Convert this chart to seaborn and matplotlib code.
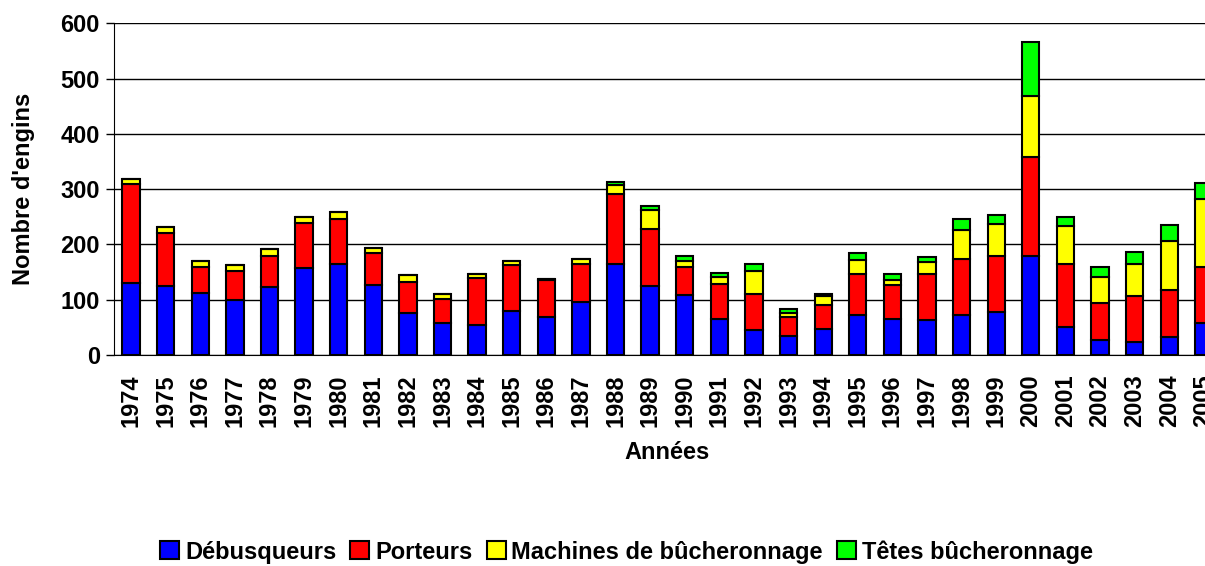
import numpy as np
import pandas as pd
import seaborn as sns
import matplotlib.pyplot as plt

## DATA ##
annees = [str(a) for a in range(1974, 2006)]
debusqueurs = [131, 125, 112, 100, 123, 158, 165, 126, 76, 58, 54, 80, 69, 96, 165, 124,
               108, 65, 45, 34, 47, 72, 66, 63, 72, 78, 179, 50, 28, 23, 33, 58]
porteurs = [178, 95, 48, 52, 57, 80, 81, 58, 56, 44, 85, 82, 67, 69, 127, 104,
            52, 63, 65, 34, 43, 74, 61, 84, 101, 101, 180, 114, 66, 83, 85, 101]
machines = [10, 11, 11, 11, 11, 11, 12, 10, 12, 8, 7, 8, 2, 9, 15, 34,
            11, 14, 42, 8, 16, 26, 8, 21, 53, 58, 109, 69, 47, 58, 88, 124]
tetes = [0, 0, 0, 0, 0, 0, 0, 0, 0, 0, 0, 0, 0, 0, 7, 7,
         9, 7, 12, 8, 4, 13, 12, 9, 20, 17, 99, 16, 18, 23, 29, 29]

series = ['Débusqueurs', 'Porteurs', 'Machines de bûcheronnage', 'Têtes bûcheronnage']
couleurs = ['#0000FF', '#FF0000', '#FFFF00', '#00FF00']

df = pd.DataFrame({'annee': annees,
                   series[0]: debusqueurs,
                   series[1]: porteurs,
                   series[2]: machines,
                   series[3]: tetes})

sns.set_style('white')
plt.rcParams['font.family'] = ['Liberation Sans', 'DejaVu Sans']
plt.rcParams['font.weight'] = 'bold'
plt.rcParams['text.color'] = 'black'
plt.rcParams['axes.labelcolor'] = 'black'
plt.rcParams['xtick.color'] = 'black'
plt.rcParams['ytick.color'] = 'black'

fig = plt.figure(figsize=(12.05, 5.66), dpi=100)
ax = fig.add_axes([0.0944, 0.3728, 0.919, 0.5857])

# stacked bars
bas = np.zeros(len(annees))
for nom, c in zip(series, couleurs):
    sns.barplot(data=df, x='annee', y=nom, bottom=bas, color=c, saturation=1,
                edgecolor='black', linewidth=1.5, width=0.5, errorbar=None,
                label=nom, ax=ax, zorder=3)
    bas = bas + df[nom].values

ax.set_xlim(-0.5, len(annees) - 0.5)
ax.set_ylim(0, 600)
ax.set_yticks(range(0, 601, 100))
ax.yaxis.grid(True, color='black', linewidth=1, zorder=0)
ax.set_axisbelow(True)
for s in ['top', 'right']:
    ax.spines[s].set_visible(False)
ax.spines['left'].set_color('black')
ax.spines['bottom'].set_color('black')

ax.tick_params(axis='y', direction='out', length=6, width=1, color='black',
               labelsize=17, pad=4, left=True, labelcolor='black')
ax.tick_params(axis='x', length=0, labelsize=17, pad=14, rotation=90, labelcolor='black')
for lab in ax.get_xticklabels() + ax.get_yticklabels():
    lab.set_fontweight('bold')

ax.set_xlabel('Années', fontsize=17, fontweight='bold', labelpad=10, color='black')
ax.set_ylabel("Nombre d'engins", fontsize=17, fontweight='bold', labelpad=18, color='black')

if ax.get_legend() is not None:
    ax.get_legend().remove()
handles, labels = ax.get_legend_handles_labels()
fig.legend(handles[:4], labels[:4], loc='center', bbox_to_anchor=(0.52, 0.025),
           ncol=4, frameon=False, handlelength=0.8, handleheight=0.8,
           handletextpad=0.25, columnspacing=0.6, labelcolor='black',
           prop={'size': 17, 'weight': 'bold'})

plt.savefig('out.png', dpi=100)
